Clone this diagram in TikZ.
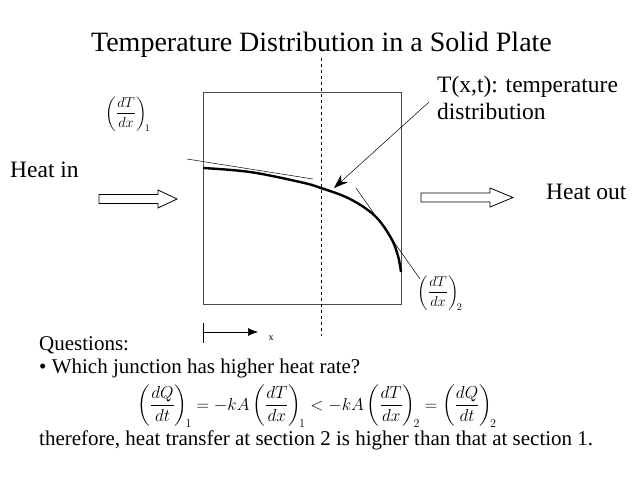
\documentclass[tikz,border=0pt]{standalone}
\usepackage{amsmath}
\usepackage{fontspec}
\setmainfont{Liberation Serif}
\usetikzlibrary{arrows.meta,calc}

\begin{document}
\begin{tikzpicture}[x=1pt,y=-1pt,
    txt/.style={font=\fontsize{21}{24}\selectfont, inner sep=0pt, anchor=base west},
    bigtxt/.style={font=\fontsize{23.5}{27}\selectfont, inner sep=0pt, anchor=base west},
    blockarrow/.style={draw, fill=white, line width=0.8pt}]
			\useasboundingbox (0,0) rectangle (640,480);
			% title
			\node[font=\fontsize{28}{32}\selectfont, inner sep=0pt, anchor=base] (title) at (321.5,51) {Temperature Distribution in a Solid Plate};
			% plate
			\draw[line width=0.8pt, black!70] (203,92) rectangle (401,304);
			\draw[dashed, line width=0.8pt] (321,58) -- (321,336);
			% temperature curve
			\draw[line width=2.4pt] plot[smooth, tension=0.6] coordinates {(203,168) (250,172) (300,182) (321,188) (350,199) (375,216) (391,238) (398,256) (401,272)};
			% tangents
			\coordinate (T1a) at (187,159);
			\coordinate (T1b) at (313,179);
			\coordinate (T2a) at (356,188);
			\coordinate (T2b) at (420,279);
			\draw[line width=0.5pt] (T1a) -- (T1b);
			\draw[line width=0.5pt] (T2a) -- (T2b);
			% labels
			\node[font=\fontsize{14}{16}\selectfont, inner sep=0pt] (slope1) at (128,114) {$\left(\dfrac{dT}{dx}\right)_{\!1}$};
			\node[font=\fontsize{14}{16}\selectfont, inner sep=0pt] (slope2) at (440,293) {$\left(\dfrac{dT}{dx}\right)_{\!2}$};
			\node[bigtxt] (dist) at (437,92) {T(x,t): temperature};
			\node[bigtxt] (dist2) at (437,119) {distribution};
			\coordinate (P) at (334,188);
			\coordinate (Q) at (429,102);
			\draw[-{Stealth[length=14pt,width=10pt]}, line width=0.5pt] (Q) -- (P);
			% heat flow
			\draw[blockarrow] (99,194.5) -- (158,194.5) -- (158,190) -- (177,199) -- (158,208) -- (158,203.5) -- (99,203.5) -- cycle;
			\draw[blockarrow] (421,193) -- (490,193) -- (490,188) -- (513,197.5) -- (490,207) -- (490,202) -- (421,202) -- cycle;
			\node[bigtxt] (heatin) at (10,177) {Heat in};
			\node[bigtxt] (heatout) at (546,199) {Heat out};
			% x axis
			\draw[line width=0.6pt] (203,323) -- (203,343);
			\coordinate (X0) at (203,332);
			\coordinate (X1) at (258,332);
			\draw[-{Latex[length=10pt,width=8pt]}, line width=0.6pt] (X0) -- (X1);
			\node[font=\fontsize{10}{12}\selectfont, inner sep=0pt, anchor=base] (xlab) at (271,340) {x};
			% questions
			\node[txt] (q) at (39,350) {Questions:};
			\node[txt] (q1) at (39,373) {\textbullet{} Which junction has higher heat rate?};
			\node[font=\fontsize{16.5}{19}\selectfont, inner sep=0pt] (eq) at (317,406) {$\left(\dfrac{dQ}{dt}\right)_{\!1} = -kA\left(\dfrac{dT}{dx}\right)_{\!1} < -kA\left(\dfrac{dT}{dx}\right)_{\!2} = \left(\dfrac{dQ}{dt}\right)_{\!2}$};
			\node[txt] (ans) at (39,445) {therefore, heat transfer at section 2 is higher than that at section 1.};
\end{tikzpicture}
\end{document}
